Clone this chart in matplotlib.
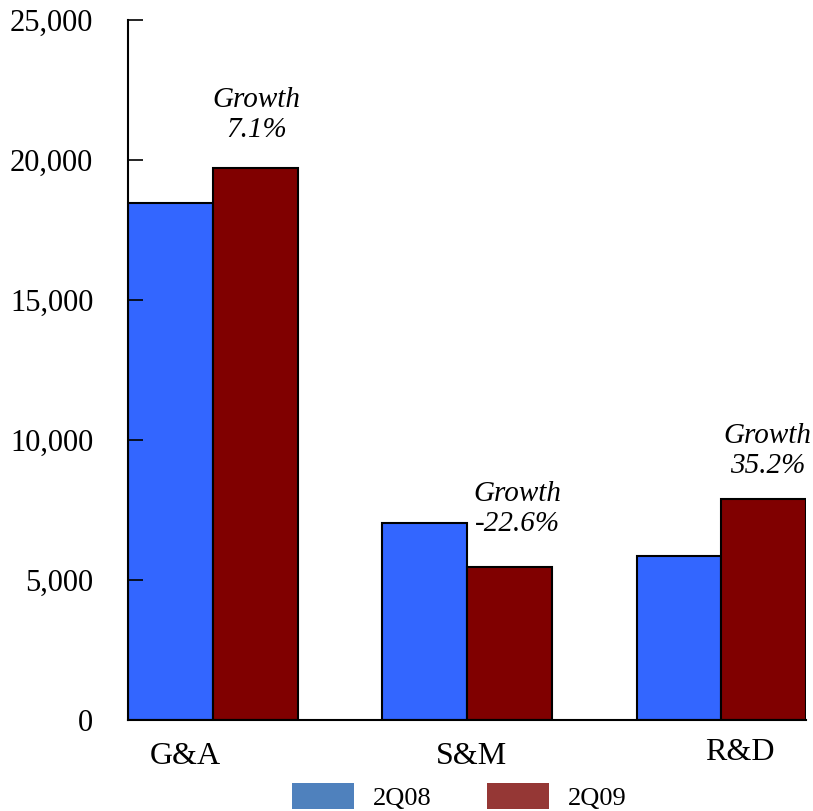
import numpy as np
import matplotlib
matplotlib.use('Agg')
import matplotlib.pyplot as plt
from matplotlib.patches import Patch

plt.rcParams['font.family'] = ['Liberation Serif', 'DejaVu Serif']

# data
categories = ['G&A', 'S&M', 'R&D']
q2_08 = [18450, 7030, 5860]
q2_09 = [19700, 5460, 7900]
growth = ['7.1%', '-22.6%', '35.2%']
series_names = ['2Q08', '2Q09']

bar_colors = ['#3366FF', '#800000']
legend_colors = ['#4F81BD', '#953735']

fig = plt.figure(figsize=(8.13, 8.11), dpi=100)
ax = fig.add_axes([128/813, 91/811, 678/813, 700/811])

x = np.arange(len(categories)) * 3  # blue slot, red slot, empty slot
ax.bar(x, q2_08, width=1, color=bar_colors[0], edgecolor='black', linewidth=1.5, align='center')
ax.bar(x + 1, q2_09, width=1, color=bar_colors[1], edgecolor='black', linewidth=1.5, align='center')

ax.set_xlim(-0.5, 7.5)
ax.set_ylim(0, 25000)
ax.set_yticks(np.arange(0, 25001, 5000))
ax.set_yticklabels(['{:,}'.format(v) for v in range(0, 25001, 5000)])
ax.tick_params(axis='y', direction='in', length=11, width=1.2, pad=25, labelsize=22)
ax.set_xticks([])

for s in ['top', 'right']:
    ax.spines[s].set_visible(False)
ax.spines['left'].set_linewidth(1.5)
ax.spines['bottom'].set_linewidth(1.5)

# category labels (positioned slightly off centre like the original)
label_x = [0.18, 3.55, 6.72]
label_y = [-1320, -1320, -1150]
for cx, cy, c in zip(label_x, label_y, categories):
    ax.text(cx, cy, c, ha='center', va='center', fontsize=23, clip_on=False)

# growth notes
note_x = [1.02, 4.1, 7.05]
note_y = [21600, 7520, 9590]
for nx, ny, g in zip(note_x, note_y, growth):
    ax.text(nx, ny, 'Growth\n' + g, ha='center', va='center', fontsize=21,
            style='italic', linespacing=1.2, clip_on=False)

handles = [Patch(facecolor=c) for c in legend_colors]
fig.legend(handles, series_names, loc='center', bbox_to_anchor=(0.565, 0.0175),
           ncol=2, frameon=False, fontsize=19, handlelength=2.35, handleheight=1.14,
           handletextpad=0.72, columnspacing=2.1, borderpad=0)

fig.savefig('out.png', dpi=100)
